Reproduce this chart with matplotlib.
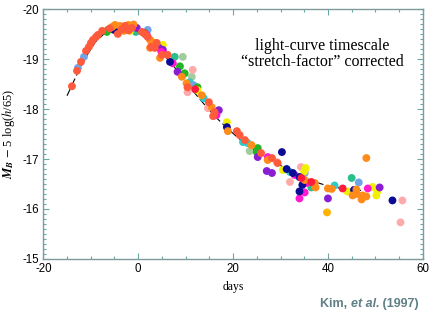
import matplotlib
matplotlib.use("Agg")
import matplotlib.pyplot as plt
from matplotlib.ticker import MultipleLocator
from matplotlib.transforms import offset_copy

plt.rcParams['axes.unicode_minus'] = False
plt.rcParams['mathtext.fontset'] = 'stix'

# ---- data (days, M_B - 5 log(h/65)) ----
tmpl_days = [-15, -13, -11, -9, -7, -5, -3, -1, 1, 3, 5, 7, 9, 11, 13, 15, 17, 19, 21,
             23, 25, 27, 29, 31, 33, 35, 37, 39, 41, 43, 45, 47]
tmpl_mags = [-18.27, -18.68, -19.05, -19.35, -19.53, -19.61, -19.62, -19.58, -19.48,
             -19.33, -19.13, -18.92, -18.68, -18.43, -18.2, -17.98, -17.78, -17.6,
             -17.43, -17.28, -17.15, -17.03, -16.92, -16.82, -16.72, -16.63, -16.55,
             -16.49, -16.44, -16.41, -16.39, -16.37]

redorange_d = [-13.96, -12.9, -12.06, -11.0, -10.38, -9.96, -9.54, -8.9, -8.48, -7.6, -4.3,
               -2.8, -1.3, 0.8, 2.0, 3.9, 3.5, 5.0, 6.2, 10.4, 14.9, 16.1, 15.8, 20.8, 21.4,
               22.5, 25.9, 28.2, 29.4, -6.0, -3.5, -2.0, 1.5, 2.7]
redorange_m = [-18.46, -18.77, -18.95, -19.17, -19.25, -19.33, -19.39, -19.45, -19.49, -19.57,
               -19.51, -19.67, -19.63, -19.55, -19.45, -19.33, -19.23, -19.09, -19.09, -18.44,
               -18.14, -17.94, -17.86, -17.56, -17.48, -17.38, -17.12, -17.02, -16.92, -19.62,
               -19.6, -19.58, -19.5, -19.25]
red_d = [34.4, 36.5, 43.1, 1.2, 12.0]
red_m = [-16.62, -16.54, -16.41, -19.53, -18.4]
orange_d = [-4.9, -3.8, -2.1, -3.0, 2.5, 2.9, 2.5, 4.6, 9.2, 10.2, 13.4, 15.5, 18.9, 23.9,
            27.3, 35.1, 37.2, 37.4, 40.0, 40.8, 45.2, 46.0, 46.1, 47.1, 47.3, 48.1, 48.1,
            -5.5, -1.0]
orange_m = [-19.69, -19.67, -19.69, -19.57, -19.39, -19.35, -19.23, -19.03, -18.65, -18.52,
            -18.28, -18.04, -17.56, -17.28, -16.98, -16.58, -16.52, -16.43, -16.41, -16.4,
            -16.27, -16.39, -16.3, -16.19, -16.27, -17.02, -16.25, -19.65, -19.7]
gold_d = [39.8, -4.0]
gold_m = [-15.93, -19.62]
yellow_d = [-1.7, 3.3, 5.2, 18.7, 30.5, 35.3, 44.1, 49.4, 50.4, 50.2, 12.5, 35.0]
yellow_m = [-19.57, -19.33, -19.29, -17.74, -16.78, -16.82, -16.35, -16.44, -16.35, -16.27,
            -18.38, -16.75]
green_d = [-6.6, -6.4, 1.4, 8.8, 9.8, 12.5, 25.2, 25.0]
green_m = [-19.55, -19.59, -19.53, -18.86, -18.72, -18.44, -17.22, -17.14]
tealgreen_d = [-0.9, 7.7, 36.5, 45.0, -0.5]
tealgreen_m = [-19.63, -19.05, -16.43, -16.62, -19.55]
cyan_d = [10.9, 13.8, 22.1, 23.1, 32.0, 41.4]
cyan_m = [-18.54, -18.22, -17.34, -17.32, -16.74, -16.47]
lightblue_d = [-12.7, -11.43, 2.0, 11.7, 35.1, 46.5]
lightblue_m = [-18.83, -19.05, -19.59, -18.48, -16.72, -16.53]
navy_d = [-5.1, 6.7, 18.7, 30.3, 31.3, 32.6, 34.0, 34.6, 34.0, 45.5, 53.6, -4.5]
navy_m = [-19.59, -18.95, -17.64, -17.14, -16.8, -16.72, -16.64, -16.48, -16.35, -16.38,
          -16.17, -19.58]
purple_d = [-0.3, 4.4, 5.2, 8.3, 17.0, 25.2, 27.1, 28.2, 40.0, 50.9]
purple_m = [-19.63, -19.23, -19.19, -18.75, -17.98, -17.04, -16.76, -16.72, -16.21, -16.43]
magenta_d = [1.8, 4.9, 7.3, 16.5, 27.3, 33.0, 35.5, 34.0, 35.1, 48.4]
magenta_m = [-19.49, -19.15, -18.92, -17.88, -17.04, -16.68, -16.52, -16.21, -16.33, -16.41]
pink_d = [11.5, 10.4, 14.7, 29.2, 34.3, 32.0, 55.7, 55.3]
pink_m = [-18.79, -18.34, -18.02, -16.94, -16.84, -16.54, -16.17, -15.73]
lightgreen_d = [9.4, 11.3, 23.5]
lightgreen_m = [-19.05, -18.65, -17.16]

series = [
    (lightgreen_d, lightgreen_m, '#a3cc9c'),
    (pink_d, pink_m, '#ffaaaa'),
    (cyan_d, cyan_m, '#33c8c8'),
    (lightblue_d, lightblue_m, '#70a4ea'),
    (tealgreen_d, tealgreen_m, '#2cbf8c'),
    (green_d, green_m, '#22b522'),
    (gold_d, gold_m, '#ffb300'),
    (yellow_d, yellow_m, '#f0f000'),
    (purple_d, purple_m, '#8a1cd2'),
    (magenta_d, magenta_m, '#ff1ad2'),
    (navy_d, navy_m, '#0b0b96'),
    (orange_d, orange_m, '#ff8c1a'),
    (red_d, red_m, '#ff1a40'),
    (redorange_d, redorange_m, '#ff5a3c'),
]

fig = plt.figure(figsize=(4.31, 3.11), dpi=100)
ax = fig.add_axes([0.1005, 0.168, 0.8805, 0.8015])

ax.plot(tmpl_days, tmpl_mags, color='black', lw=0.8, dashes=(7, 3), zorder=1)
for d, m, c in series:
    ax.scatter(d, m, s=32, color=c, edgecolors='none', zorder=2)

ax.set_xlim(-20, 60)
ax.set_ylim(-15, -20)
ax.xaxis.set_major_locator(MultipleLocator(20))
ax.xaxis.set_minor_locator(MultipleLocator(5))
ax.yaxis.set_major_locator(MultipleLocator(1))
ax.yaxis.set_minor_locator(MultipleLocator(0.1))

spc = '#7f9a9a'
for s in ax.spines.values():
    s.set_color(spc)
    s.set_linewidth(1.0)
ax.tick_params(which='both', direction='in', top=True, right=True, color='#6aa8a8',
               width=0.8)
ax.tick_params(which='major', length=4, labelsize=8.3, pad=3)
ax.tick_params(which='minor', length=2)
for lab in ax.get_xticklabels() + ax.get_yticklabels():
    lab.set_family('Liberation Sans')

ax.set_ylabel(r'$\mathbfit{M}_{\mathbfit{B}}$ $-$ 5 log($\mathit{h}$/65)',
              fontsize=9, family='Liberation Serif')
ax.yaxis.set_label_coords(-0.07, 0.5)
ax.set_xlabel('days', fontsize=8.5, family='Liberation Serif')
ax.xaxis.set_label_coords(0.5, -0.09)

fig.text(322 / 431, 1 - 54 / 311, 'light-curve timescale\n\u201cstretch-factor\u201d corrected',
         ha='center', va='center', fontsize=11.5, family='Liberation Serif',
         linespacing=1.05)

# credit line: "Kim, " + italic "et al." + " (1997)", bold sans
kcol = '#5f8086'
kw = dict(fontsize=9, family='Liberation Sans', fontweight='bold', color=kcol,
          va='baseline')
fig.canvas.draw()
r = fig.canvas.get_renderer()
t1 = fig.text(320 / 431, 1 - 307 / 311, 'Kim, ', ha='left', **kw)
ex = t1.get_window_extent(r)
t2 = fig.text(0, 0, 'et al.', ha='left', style='italic', **kw)
t2.set_position((ex.x1 / fig.bbox.width, 1 - 307 / 311))
ex2 = t2.get_window_extent(r)
fig.text(ex2.x1 / fig.bbox.width, 1 - 307 / 311, ' (1997)', ha='left', **kw)

fig.savefig('out.png', dpi=100)
